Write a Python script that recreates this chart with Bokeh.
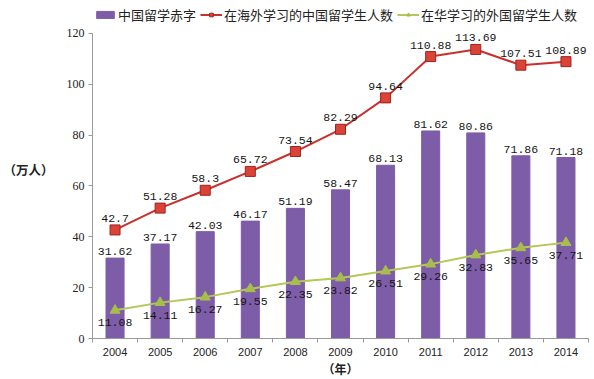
from bokeh.plotting import figure
from bokeh.models import ColumnDataSource, FixedTicker, Legend, LegendItem, LabelSet, Range1d
from bokeh.embed import file_html
from bokeh.resources import INLINE
from bokeh.core.properties import value

years = [2004, 2005, 2006, 2007, 2008, 2009, 2010, 2011, 2012, 2013, 2014]
deficit = [31.62, 37.17, 42.03, 46.17, 51.19, 58.47, 68.13, 81.62, 80.86, 71.86, 71.18]
abroad = [42.7, 51.28, 58.3, 65.72, 73.54, 82.29, 94.64, 110.88, 113.69, 107.51, 108.89]
inbound = [11.08, 14.11, 16.27, 19.55, 22.35, 23.82, 26.51, 29.26, 32.83, 35.65, 37.71]
series_names = ["中国留学赤字", "在海外学习的中国留学生人数", "在华学习的外国留学生人数"]
y_ticks = [0, 20, 40, 60, 80, 100, 120]
x_title = "（年）"
y_title = "（万人）"

src = ColumnDataSource(dict(
    year=years,
    deficit=deficit, abroad=abroad, inbound=inbound,
    deficit_t=[str(v) for v in deficit],
    abroad_t=[str(v) for v in abroad],
    inbound_t=[str(v) for v in inbound],
))

W, H = 594, 379
TOP, BOTTOM = 0, 40
frame_h = H - TOP - BOTTOM
axis_top_px = 33  # pixel position of the top tick (from canvas top)
y_end = y_ticks[-1] * frame_h / (frame_h - (axis_top_px - TOP))

p = figure(width=W, height=H, output_backend="svg", toolbar_location=None,
           x_range=Range1d(years[0] - 0.5, years[-1] + 0.5),
           y_range=Range1d(y_ticks[0], y_end),
           min_border_left=86, min_border_right=6, min_border_top=TOP, min_border_bottom=BOTTOM)
p.outline_line_color = None
p.grid.grid_line_color = None
p.background_fill_color = "white"

purple = "#7D5CA8"
red = "#C8302C"
green = "#B4C858"

bars = p.vbar(x="year", top="deficit", width=0.4, source=src, fill_color=purple, line_color=purple)
l1 = p.line("year", "abroad", source=src, line_color=red, line_width=2)
m1 = p.scatter("year", "abroad", source=src, marker="square", size=10,
               fill_color="#DA4437", line_color="#A02020", line_width=1)
l2 = p.line("year", "inbound", source=src, line_color=green, line_width=2)
m2 = p.scatter("year", "inbound", source=src, marker="triangle", size=10,
               fill_color="#A8BE4A", line_color="#A8BE4A")

lab_font = value("Liberation Mono")
for col, t, base, off in [("deficit", "deficit_t", "bottom", 3),
                          ("abroad", "abroad_t", "bottom", 8),
                          ("inbound", "inbound_t", "top", -9)]:
    ls = LabelSet(x="year", y=col, text=t, source=src, text_align="center",
                  text_baseline=base, y_offset=off, text_font=lab_font,
                  text_font_size="11.5px", text_color="#151515")
    p.add_layout(ls)

# x axis
xa = p.xaxis[0]
xa.ticker = FixedTicker(ticks=years, minor_ticks=[y - 0.5 for y in years] + [years[-1] + 0.5])
xa.major_tick_line_color = None
xa.major_tick_out = 0
xa.minor_tick_line_color = "#999999"
xa.minor_tick_out = 4
xa.minor_tick_in = 0
xa.axis_line_color = "#999999"
xa.major_label_standoff = 5
xa.major_label_text_font = "Liberation Sans"
xa.major_label_text_font_size = "11px"
xa.major_label_text_color = "#222222"
xa.axis_label = x_title
xa.axis_label_standoff = 1
xa.axis_label_text_font = "Noto Sans CJK SC"
xa.axis_label_text_font_style = "bold"
xa.axis_label_text_font_size = "12px"
xa.axis_label_text_color = "#222222"

# y axis
ya = p.yaxis[0]
ya.ticker = FixedTicker(ticks=y_ticks)
ya.bounds = (y_ticks[0], y_ticks[-1])
ya.major_tick_out = 4
ya.major_tick_in = 0
ya.minor_tick_line_color = None
ya.major_tick_line_color = "#999999"
ya.axis_line_color = "#999999"
ya.major_label_standoff = 4
ya.major_label_text_font = "Liberation Serif"
ya.major_label_text_font_size = "12px"
ya.major_label_text_color = "#222222"
ya.axis_label = y_title
ya.axis_label_orientation = "horizontal"
ya.axis_label_standoff = 10
ya.axis_label_text_font = "Noto Sans CJK SC"
ya.axis_label_text_font_style = "bold"
ya.axis_label_text_font_size = "12.5px"
ya.axis_label_text_color = "#222222"

legend = Legend(items=[
    LegendItem(label=series_names[0], renderers=[bars]),
    LegendItem(label=series_names[1], renderers=[l1, m1]),
    LegendItem(label=series_names[2], renderers=[l2, m2]),
], orientation="horizontal", location=(2, frame_h - 25))
legend.glyph_width = 22
legend.glyph_height = 9
legend.label_standoff = 2
legend.spacing = 4
legend.padding = 0
legend.margin = 0
legend.border_line_color = None
legend.background_fill_alpha = 0
legend.label_text_font = "Noto Sans CJK SC"
legend.label_text_font_size = "13px"
legend.label_text_color = "#222222"
legend.label_height = 16
p.add_layout(legend)

open("out.html", "w").write(file_html(p, INLINE))
